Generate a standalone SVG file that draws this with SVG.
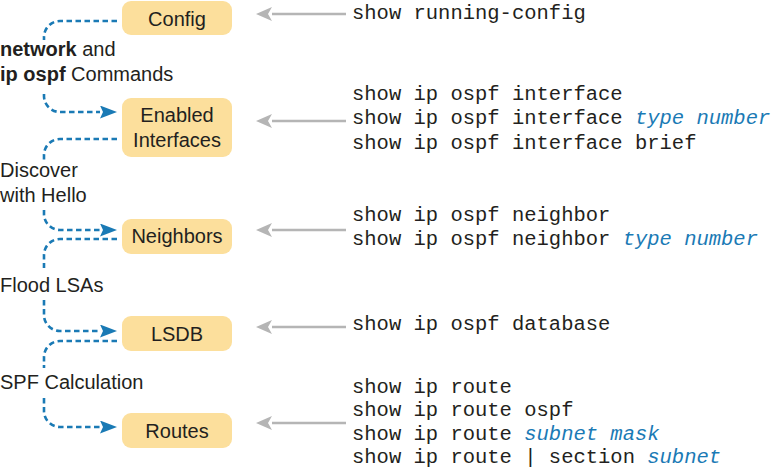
<svg xmlns="http://www.w3.org/2000/svg" width="783" height="472" viewBox="0 0 783 472">
<defs>
<style>
.box{fill:#FCDF9C;}
.bt{font-family:"Liberation Sans",Arial,sans-serif;font-size:20px;fill:#231f20;text-anchor:middle;}
.lt{font-family:"Liberation Sans",Arial,sans-serif;font-size:20px;fill:#231f20;}
.b{font-weight:bold;}
.mono{font-family:"Liberation Mono","Courier New",monospace;font-size:20.5px;fill:#231f20;}
.it{font-style:italic;fill:#1a7ab5;}
.flow{fill:none;stroke:#1a7ab5;stroke-width:2.6;stroke-dasharray:5.5 3.5;}
.gray{fill:none;stroke:#b5b5b5;stroke-width:2.6;}
</style>
<marker id="ab" markerUnits="userSpaceOnUse" markerWidth="17" markerHeight="13" refX="0" refY="6.5" orient="auto">
<path d="M0,0 L17,6.5 L0,13 L3,6.5 z" fill="#1a7ab5"/>
</marker>
<marker id="ag" markerUnits="userSpaceOnUse" markerWidth="16" markerHeight="14" refX="0" refY="7" orient="auto">
<path d="M0,0 L16,7 L0,14 L4,7 z" fill="#b5b5b5"/>
</marker>
</defs>
<rect width="783" height="472" fill="#ffffff"/>

<g id="config"><rect class="box" x="122" y="1" width="110" height="34" rx="9"/><text class="bt" x="177" y="26">Config</text></g>
<g id="interfaces"><rect class="box" x="122" y="98" width="110" height="59" rx="9"/><text class="bt" x="177" y="122">Enabled</text><text class="bt" x="177" y="147">Interfaces</text></g>
<g id="neighbors"><rect class="box" x="122" y="219" width="110" height="35" rx="9"/><text class="bt" x="177" y="243">Neighbors</text></g>
<g id="lsdb"><rect class="box" x="122" y="316" width="110" height="35" rx="9"/><text class="bt" x="177" y="341">LSDB</text></g>
<g id="routes"><rect class="box" x="122" y="413" width="110" height="35" rx="9"/><text class="bt" x="177" y="438">Routes</text></g>

<g id="labels">
<text class="lt" x="0" y="56"><tspan class="b">network</tspan> and</text>
<text class="lt" x="0" y="81"><tspan class="b">ip ospf</tspan> Commands</text>
<text class="lt" x="0" y="177">Discover</text>
<text class="lt" x="0" y="202">with Hello</text>
<text class="lt" x="0" y="292">Flood LSAs</text>
<text class="lt" x="0" y="389">SPF Calculation</text>
</g>

<g id="connectors">
<path class="flow" d="M117,21 H60 A16,16 0 0 0 44,37 V40"/>
<path class="flow" d="M44,94 V96 A16,16 0 0 0 60,112 H100" marker-end="url(#ab)"/>
<path class="flow" d="M117,139 H60 A16,16 0 0 0 44,155 V160"/>
<path class="flow" d="M44,210 V214 A16,16 0 0 0 60,230 H100" marker-end="url(#ab)"/>
<path class="flow" d="M117,239 H60 A16,16 0 0 0 44,255 V268"/>
<path class="flow" d="M44,300 V315 A16,16 0 0 0 60,331 H100" marker-end="url(#ab)"/>
<path class="flow" d="M117,341 H60 A16,16 0 0 0 44,357 V368"/>
<path class="flow" d="M44,398 V411 A16,16 0 0 0 60,427 H100" marker-end="url(#ab)"/>
<path class="gray" d="M346,14 H272" marker-end="url(#ag)"/>
<path class="gray" d="M346,121 H272" marker-end="url(#ag)"/>
<path class="gray" d="M346,230 H272" marker-end="url(#ag)"/>
<path class="gray" d="M346,327 H272" marker-end="url(#ag)"/>
<path class="gray" d="M346,423 H272" marker-end="url(#ag)"/>
</g>

<g id="commands">
<text class="mono" x="352" y="19" xml:space="preserve">show running-config</text>
<text class="mono" x="352" y="100" xml:space="preserve">show ip ospf interface</text>
<text class="mono" x="352" y="124" xml:space="preserve">show ip ospf interface <tspan class="it">type number</tspan></text>
<text class="mono" x="352" y="149" xml:space="preserve">show ip ospf interface brief</text>
<text class="mono" x="352" y="221" xml:space="preserve">show ip ospf neighbor</text>
<text class="mono" x="352" y="245" xml:space="preserve">show ip ospf neighbor <tspan class="it">type number</tspan></text>
<text class="mono" x="352" y="330" xml:space="preserve">show ip ospf database</text>
<text class="mono" x="352" y="393" xml:space="preserve">show ip route</text>
<text class="mono" x="352" y="416" xml:space="preserve">show ip route ospf</text>
<text class="mono" x="352" y="439.5" xml:space="preserve">show ip route <tspan class="it">subnet mask</tspan></text>
<text class="mono" x="352" y="463" xml:space="preserve">show ip route | section <tspan class="it">subnet</tspan></text>
</g>
</svg>
